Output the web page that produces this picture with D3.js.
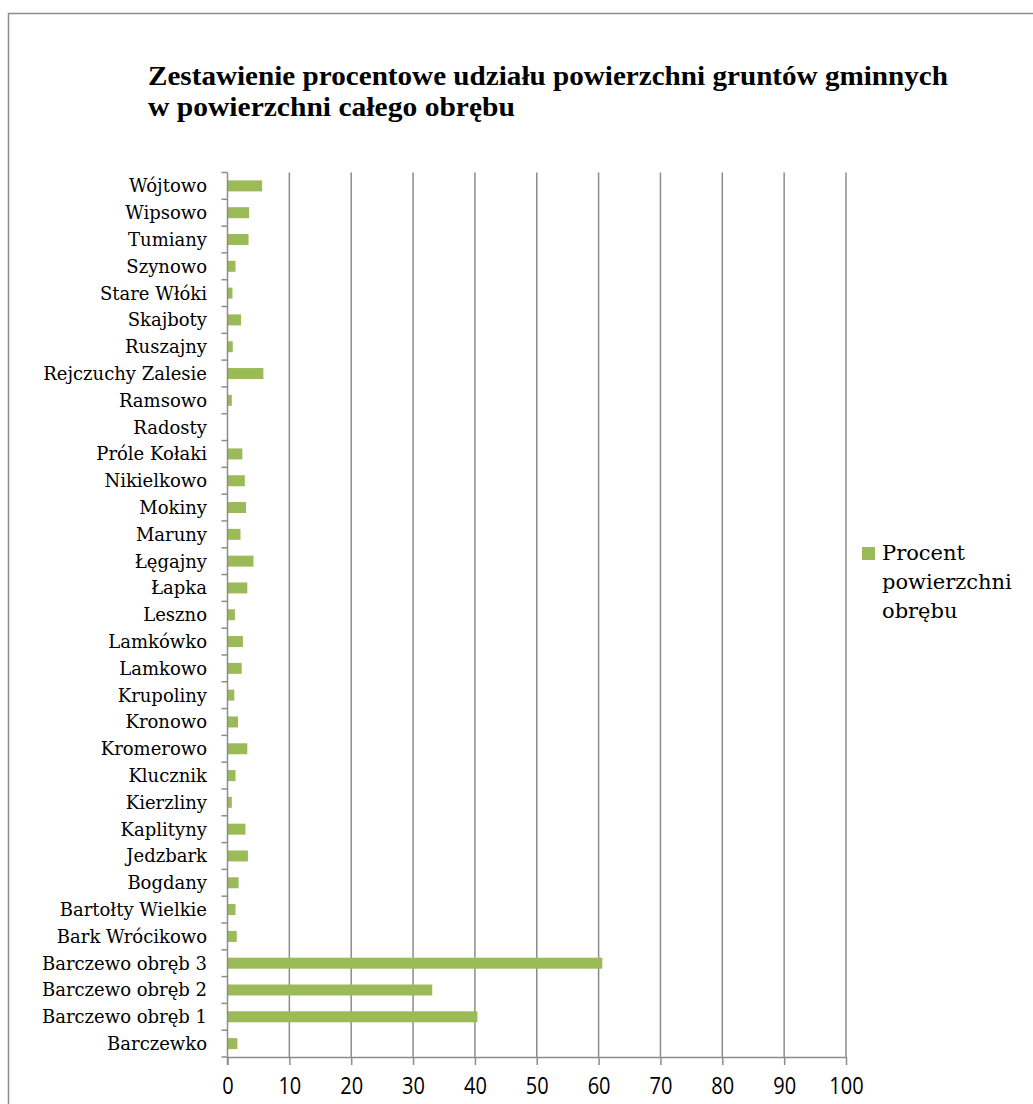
<!DOCTYPE html>
<html>
<head>
<meta charset="utf-8">
<script src="https://cdn.jsdelivr.net/npm/d3@7"></script>
<style>
  body { margin: 0; background: #fff; }
  svg { display: block; }
</style>
</head>
<body>
<svg id="canvas" width="1033" height="1104"></svg>
<script>
// obręby, from bottom (first) to top (last) as in the sheet
let obreby = [
  'Barczewko', 'Barczewo obręb 1', 'Barczewo obręb 2', 'Barczewo obręb 3',
  'Bark Wrócikowo', 'Bartołty Wielkie', 'Bogdany', 'Jedzbark', 'Kaplityny',
  'Kierzliny', 'Klucznik', 'Kromerowo', 'Kronowo', 'Krupoliny', 'Lamkowo',
  'Lamkówko', 'Leszno', 'Łapka', 'Łęgajny', 'Maruny', 'Mokiny', 'Nikielkowo',
  'Próle Kołaki', 'Radosty', 'Ramsowo', 'Rejczuchy Zalesie', 'Ruszajny',
  'Skajboty', 'Stare Włóki', 'Szynowo', 'Tumiany', 'Wipsowo', 'Wójtowo'
];

let procent = [
  1.6, 40.4, 33.1, 60.6,
  1.5, 1.3, 1.8, 3.3, 2.9,
  0.7, 1.3, 3.2, 1.7, 1.1, 2.3,
  2.5, 1.2, 3.2, 4.2, 2.1, 3.0, 2.8,
  2.4, 0, 0.7, 5.8, 0.85,
  2.2, 0.8, 1.3, 3.4, 3.5, 5.6
];

let xTicks = [0, 10, 20, 30, 40, 50, 60, 70, 80, 90, 100];

let titleLines = [
  'Zestawienie procentowe udziału powierzchni gruntów gminnych',
  'w powierzchni całego obrębu'
];
let legendLines = ['Procent', 'powierzchni', 'obrębu'];

let barColor = '#9bbb59';
let gridColor = '#8c8c8c';

let canvas = d3.select('#canvas');

let data = obreby.map((name, i) => ({name: name, value: procent[i]}));

// chart frame (runs off the right and bottom edge)
canvas.append('rect')
  .attr('x', 8.5).attr('y', 13.5)
  .attr('width', 1100).attr('height', 1200)
  .attr('fill', '#fff')
  .attr('stroke', gridColor)
  .attr('stroke-width', 1.5);

// title
canvas.append('g')
  .selectAll('text')
  .data(titleLines)
  .enter()
  .append('text')
  .attr('x', 148)
  .attr('y', (d, i) => 85 + i * 31)
  .attr('font-family', '"Liberation Serif", serif')
  .attr('font-weight', 'bold')
  .attr('font-size', 27)
  .attr('fill', '#000')
  .attr('textLength', (d, i) => i === 0 ? 800 : 367)
  .attr('lengthAdjust', 'spacingAndGlyphs')
  .text(d => d);

let xScale = d3.scaleLinear()
  .domain([0, 100])
  .range([227.5, 846]);

let yScale = d3.scaleBand()
  .domain(obreby.slice().reverse())
  .range([172.5, 1057])
  .paddingInner(0.59)
  .paddingOuter(0.295);

// vertical gridlines
canvas.append('g')
  .selectAll('line')
  .data(xTicks.slice(1))
  .enter()
  .append('line')
  .attr('x1', d => xScale(d)).attr('x2', d => xScale(d))
  .attr('y1', 172.5).attr('y2', 1057)
  .attr('stroke', gridColor)
  .attr('stroke-width', 1.5);

// bars
canvas.append('g')
  .selectAll('rect')
  .data(data)
  .enter()
  .append('rect')
  .attr('x', xScale(0))
  .attr('y', d => yScale(d.name))
  .attr('width', d => xScale(d.value) - xScale(0))
  .attr('height', yScale.bandwidth())
  .attr('fill', barColor);

// x axis
let xAxis = d3.axisBottom(xScale)
  .tickValues(xTicks)
  .tickSize(8)
  .tickSizeOuter(0)
  .tickFormat(d3.format('d'));

let gx = canvas.append('g')
  .attr('transform', 'translate(0,1057)')
  .call(xAxis);
gx.select('.domain').attr('stroke', gridColor).attr('stroke-width', 1.5);
gx.selectAll('.tick line').attr('stroke', gridColor).attr('stroke-width', 1.5);
gx.selectAll('.tick text')
  .attr('y', 0).attr('dy', 0)
  .attr('transform', 'translate(0,37) scale(1,1.15)')
  .attr('font-family', '"Open Sans", Lato, sans-serif')
  .attr('font-size', 20)
  .attr('fill', '#000');

// y axis: ticks sit between the categories, like the spreadsheet
let yAxis = canvas.append('g');
yAxis.append('line')
  .attr('x1', xScale(0)).attr('x2', xScale(0))
  .attr('y1', 172.5).attr('y2', 1065)
  .attr('stroke', gridColor)
  .attr('stroke-width', 1.5);

let step = yScale.step();
yAxis.selectAll('line.tick')
  .data(d3.range(obreby.length + 1))
  .enter()
  .append('line')
  .attr('class', 'tick')
  .attr('x1', xScale(0) - 6).attr('x2', xScale(0))
  .attr('y1', i => 172.5 + i * step)
  .attr('y2', i => 172.5 + i * step)
  .attr('stroke', gridColor)
  .attr('stroke-width', 1.5);

yAxis.selectAll('text')
  .data(obreby)
  .enter()
  .append('text')
  .attr('x', 207)
  .attr('y', d => yScale(d) + yScale.bandwidth() / 2)
  .attr('dy', '0.36em')
  .attr('text-anchor', 'end')
  .attr('font-family', '"DejaVu Serif", serif')
  .attr('font-size', 18)
  .attr('fill', '#000')
  .text(d => d);

// legend
let legend = canvas.append('g');
legend.append('rect')
  .attr('x', 862).attr('y', 547)
  .attr('width', 13).attr('height', 13)
  .attr('fill', barColor);
legend.selectAll('text')
  .data(legendLines)
  .enter()
  .append('text')
  .attr('x', 882)
  .attr('y', (d, i) => 560 + i * 29)
  .attr('font-family', '"DejaVu Serif", serif')
  .attr('font-size', 21)
  .attr('fill', '#000')
  .text(d => d);
</script>
</body>
</html>
